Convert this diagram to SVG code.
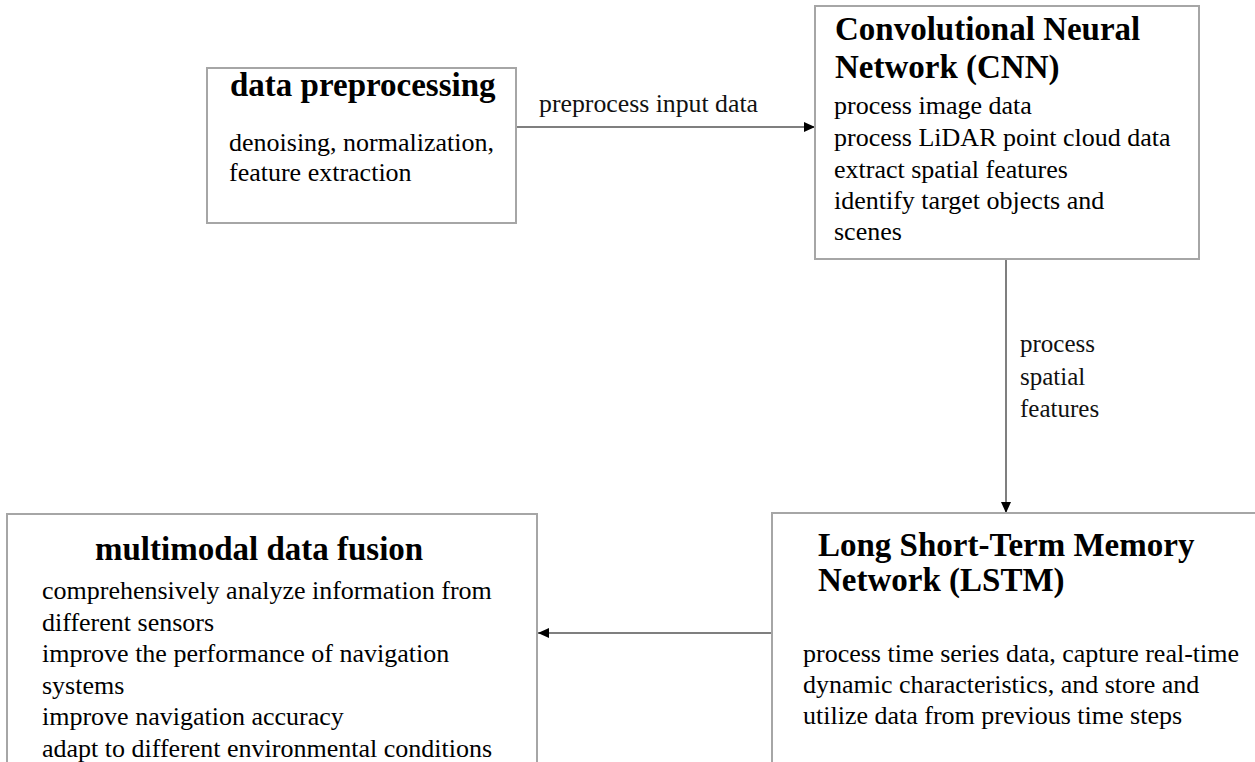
<svg xmlns="http://www.w3.org/2000/svg" width="1255" height="762" viewBox="0 0 1255 762">
<style>
.box{fill:#fff;stroke:#a6a6a6;stroke-width:2}
.t{font-family:"Liberation Serif","Times New Roman",serif;font-weight:bold;font-size:33px;fill:#000}
.b{font-family:"Liberation Serif","Times New Roman",serif;font-size:26px;fill:#000}
.l{font-family:"Liberation Serif","Times New Roman",serif;font-size:25px;fill:#111}
.c{stroke:#555;stroke-width:1.5;fill:none}
</style>
<defs>
<marker id="ah" markerWidth="11" markerHeight="10" refX="11" refY="5" orient="auto" markerUnits="userSpaceOnUse">
<path d="M0,0 L11,5 L0,10 Z" fill="#000"/>
</marker>
</defs>
<rect width="1255" height="762" fill="#fff"/>
<g id="connectors">
<line class="c" x1="517" y1="127" x2="815" y2="127" marker-end="url(#ah)"/>
<text class="l" x="539" y="112" textLength="219" lengthAdjust="spacingAndGlyphs">preprocess input data</text>
<line class="c" x1="1006" y1="259" x2="1006" y2="513" marker-end="url(#ah)"/>
<text class="l" x="1020" y="352">process</text>
<text class="l" x="1020" y="385">spatial</text>
<text class="l" x="1020" y="417">features</text>
<line class="c" x1="772" y1="633" x2="538" y2="633" marker-end="url(#ah)"/>
</g>
<g id="node-preprocessing">
<rect class="box" x="207" y="68" width="309" height="155"/>
<text class="t" x="230" y="96">data preprocessing</text>
<text class="b" x="229" y="151">denoising, normalization,</text>
<text class="b" x="229" y="181">feature extraction</text>
</g>
<g id="node-cnn">
<rect class="box" x="815" y="6" width="384" height="253"/>
<text class="t" x="835" y="40">Convolutional Neural</text>
<text class="t" x="835" y="78">Network (CNN)</text>
<text class="b" x="834" y="114">process image data</text>
<text class="b" x="834" y="146">process LiDAR point cloud data</text>
<text class="b" x="834" y="178">extract spatial features</text>
<text class="b" x="834" y="209">identify target objects and</text>
<text class="b" x="834" y="240">scenes</text>
</g>
<g id="node-lstm">
<rect class="box" x="772" y="513" width="500" height="270"/>
<text class="t" x="818" y="556">Long Short-Term Memory</text>
<text class="t" x="818" y="591">Network (LSTM)</text>
<text class="b" x="803" y="662">process time series data, capture real-time</text>
<text class="b" x="803" y="693">dynamic characteristics, and store and</text>
<text class="b" x="803" y="724">utilize data from previous time steps</text>
</g>
<g id="node-fusion">
<rect class="box" x="7" y="514" width="530" height="270"/>
<text class="t" x="95" y="560">multimodal data fusion</text>
<text class="b" x="42" y="599">comprehensively analyze information from</text>
<text class="b" x="42" y="631">different sensors</text>
<text class="b" x="42" y="662">improve the performance of navigation</text>
<text class="b" x="42" y="694">systems</text>
<text class="b" x="42" y="725">improve navigation accuracy</text>
<text class="b" x="42" y="757">adapt to different environmental conditions</text>
</g>
</svg>
